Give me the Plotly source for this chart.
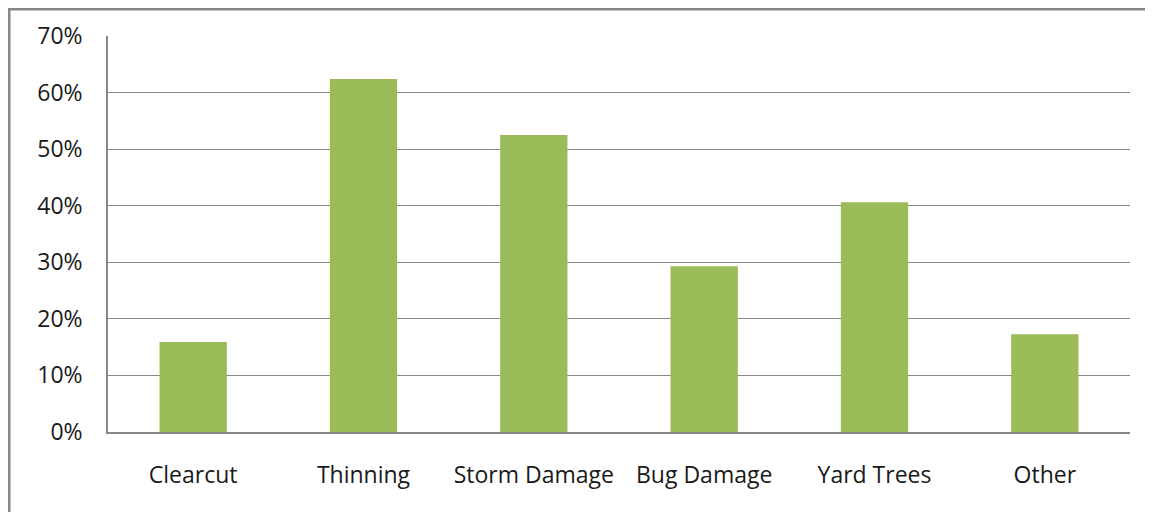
import plotly.graph_objects as go

categories = ["Clearcut", "Thinning", "Storm Damage", "Bug Damage", "Yard Trees", "Other"]
values = [0.159, 0.624, 0.525, 0.293, 0.406, 0.173]
y_ticks = [0, 0.1, 0.2, 0.3, 0.4, 0.5, 0.6, 0.7]
y_tick_labels = ["0%", "10%", "20%", "30%", "40%", "50%", "60%", "70%"]

fig = go.Figure(go.Bar(x=categories, y=values, marker=dict(color="#9BBB59", line=dict(width=0))))

fig.update_layout(
    width=1145, height=504,
    margin=dict(l=100, r=23, t=28, b=80),
    paper_bgcolor="white", plot_bgcolor="white",
    bargap=0.605,
    showlegend=False,
    font=dict(family="Open Sans", size=23, color="#1a1a1a"),
    shapes=[dict(type="rect", xref="paper", yref="paper",
                 x0=-0.0966, y0=-0.5, x1=1.5, y1=1.0676,
                 line=dict(color="#878787", width=2.5), layer="below")],
)
fig.update_xaxes(showgrid=False, showline=True, linecolor="#878787", linewidth=1.5,
                 ticks="", ticklabelstandoff=22, tickfont=dict(size=23))
fig.update_yaxes(range=[0, 0.7], tickvals=y_ticks, ticktext=y_tick_labels,
                 showgrid=True, gridcolor="#878787", gridwidth=1.2,
                 showline=True, linecolor="#878787", linewidth=1.5,
                 zeroline=False, ticks="", ticklabelstandoff=19, tickfont=dict(size=23))

fig.write_html("out.html")
